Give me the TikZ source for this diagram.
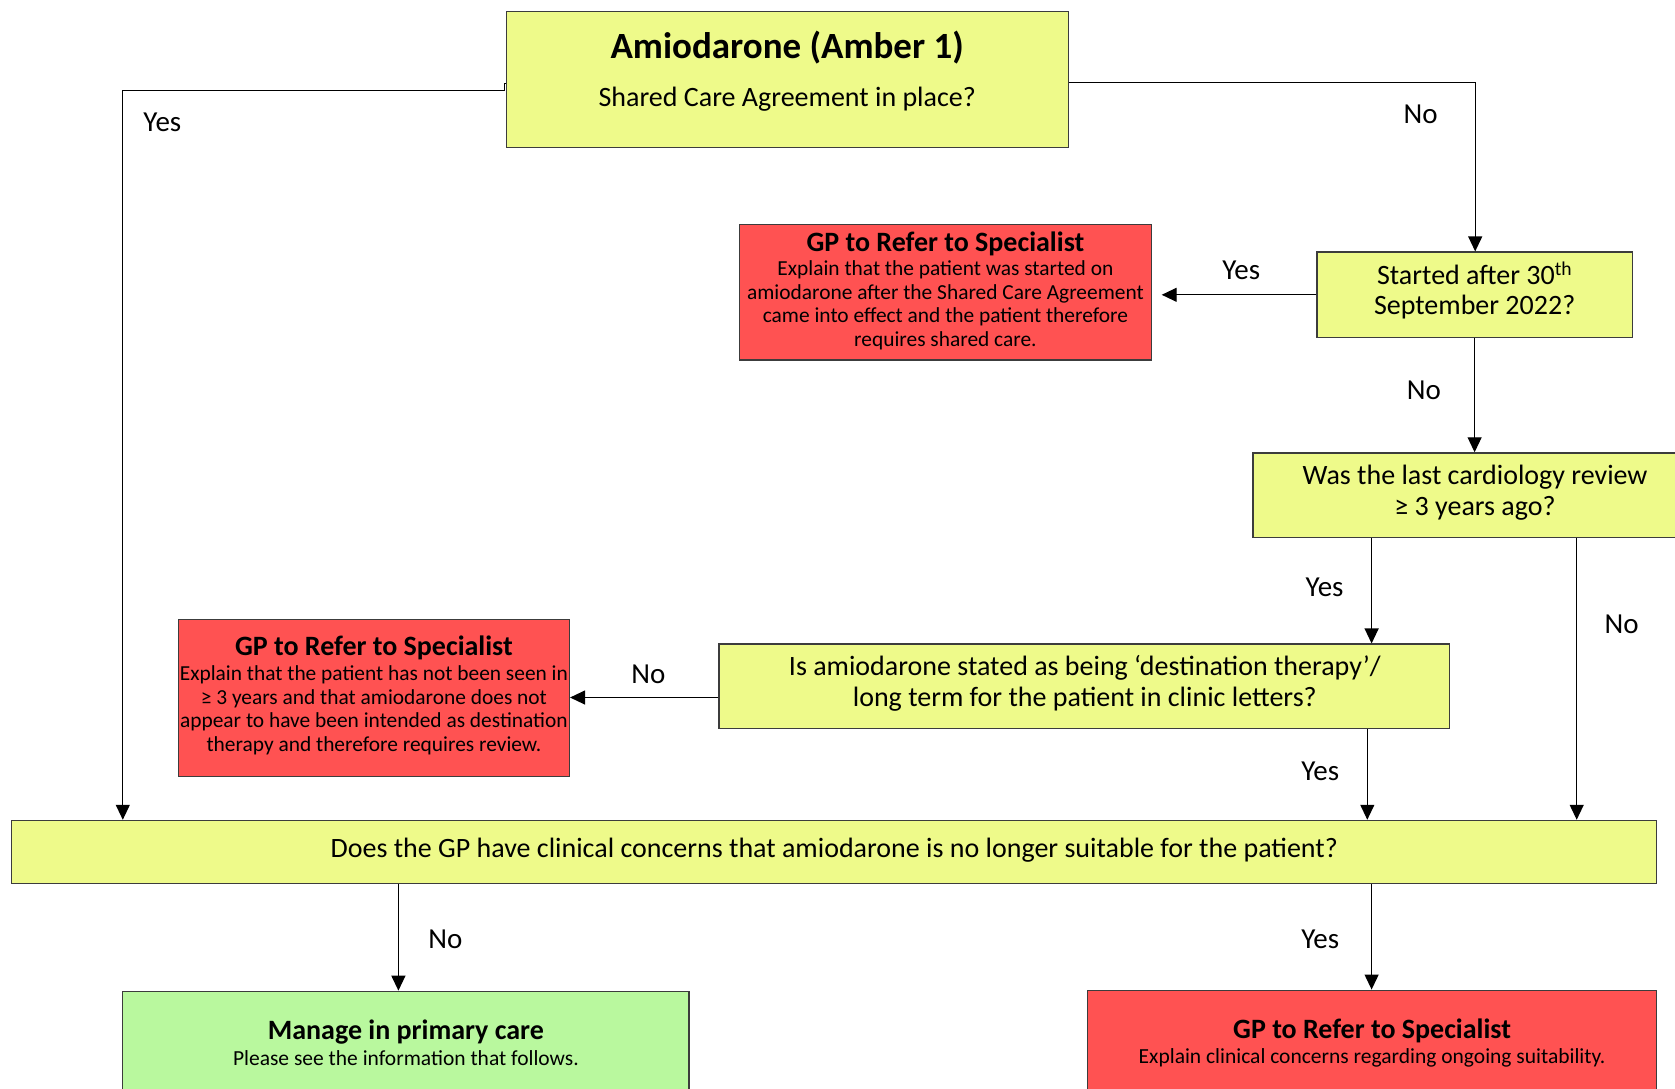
\documentclass[tikz,border=0pt]{standalone}
\usepackage{fontspec}
\setmainfont{Carlito}
\usetikzlibrary{arrows.meta}
\definecolor{ybox}{RGB}{238,250,138}
\definecolor{rbox}{RGB}{255,82,82}
\definecolor{gbox}{RGB}{185,248,158}
\definecolor{edgec}{RGB}{60,60,60}
\newcommand\fsz[2]{\fontsize{#1}{#2}\selectfont}
\begin{document}
\begin{tikzpicture}[x=1pt,y=-1pt,
  box/.style={draw=edgec,line width=1.3pt,rectangle,inner sep=0pt},
  ybx/.style={box,fill=ybox},
  rbx/.style={box,fill=rbox},
  gbx/.style={box,fill=gbox},
  arr/.style={draw=black,line width=1.2pt,-{Triangle[length=15pt,width=14pt]}},
  lbl/.style={font=\fsz{29}{34},inner sep=0pt},
  txt/.style={inner sep=0pt,anchor=base},
  mtxt/.style={inner sep=0pt,align=center},
]
\useasboundingbox (0,0) rectangle (1675,1088);
\clip (0,0) rectangle (1675,1088);
\fill[white] (0,0) rectangle (1675,1088);

% boxes
\node[ybx,minimum width=562pt,minimum height=135.6pt] (top) at (787.2,79.6) {};
\node[rbx,minimum width=412.3pt,minimum height=135.7pt] (red1) at (945.4,292.2) {};
\node[ybx,minimum width=315.1pt,minimum height=85.5pt] (start) at (1474.6,294.8) {};
\node[ybx,minimum width=444pt,minimum height=84.4pt] (card) at (1475,495.1) {};
\node[ybx,minimum width=730.6pt,minimum height=84.4pt] (dest) at (1084.2,686.3) {};
\node[rbx,minimum width=391pt,minimum height=157pt] (red2) at (373.9,698.1) {};
\node[ybx,minimum width=1645pt,minimum height=63pt] (bot) at (834.3,851.9) {};
\node[gbx,minimum width=566.2pt,minimum height=118.7pt] (green) at (405.9,1050.65) {};
\node[rbx,minimum width=569.4pt,minimum height=119.8pt] (red3) at (1372.1,1050.1) {};

% texts
\node[txt,font=\bfseries\fsz{37}{44}] (t1) at (787.2,58) {Amiodarone (Amber 1)};
\node[txt,font=\fsz{28}{34}] (t2) at (787.2,106.5) {Shared Care Agreement in place?};

\node[txt,font=\bfseries\fsz{28}{34}] (r1t) at (945.4,251) {GP to Refer to Specialist};
\node[mtxt,font=\fsz{21.4}{23.5}] (r1b) at (945.4,305.5)
  {Explain that the patient was started on\\amiodarone after the Shared Care Agreement\\came into effect and the patient therefore\\requires shared care.};

\node[mtxt,font=\fsz{28}{30}] (st) at (1474.6,290.5)
  {Started after 30\textsuperscript{th}\\September 2022?};

\node[mtxt,font=\fsz{28}{31}] (ct) at (1475,492.5)
  {Was the last cardiology review\\≥ 3 years ago?};

\node[mtxt,font=\fsz{28}{31}] (dt) at (1084.8,683.7)
  {Is amiodarone stated as being ‘destination therapy’/\\long term for the patient in clinic letters?};

\node[txt,font=\bfseries\fsz{28}{34}] (r2t) at (373.9,655.8) {GP to Refer to Specialist};
\node[mtxt,font=\fsz{21.4}{23.5}] (r2b) at (373.9,710.3)
  {Explain that the patient has not been seen in\\≥ 3 years and that amiodarone does not\\appear to have been intended as destination\\therapy and therefore requires review.};

\node[txt,font=\fsz{28}{34}] (bt) at (834.3,857.5)
  {Does the GP have clinical concerns that amiodarone is no longer suitable for the patient?};

\node[txt,font=\bfseries\fsz{28}{34}] (gt) at (405.9,1039.7) {Manage in primary care};
\node[txt,font=\fsz{21.5}{25}] (gb) at (405.9,1065.9) {Please see the information that follows.};

\node[txt,font=\bfseries\fsz{28}{34}] (r3t) at (1372.1,1038.7) {GP to Refer to Specialist};
\node[txt,font=\fsz{21.5}{25}] (r3b) at (1372.1,1063.8) {Explain clinical concerns regarding ongoing suitability.};

% connector coordinates
\coordinate (j1) at (504.5,83.3);
\coordinate (j2) at (504.5,90.8);
\coordinate (yL) at (122.8,90.8);
\coordinate (nR) at (1475.2,82.3);
\coordinate (cx1) at (1371.6,0);
\coordinate (cx2) at (1576.7,0);
\coordinate (cx3) at (1367.3,0);
\coordinate (cx4) at (398.4,0);
\coordinate (ay) at (0,697.5);

% connectors
\draw[arr] (top.west |- j1) -- (j1) -- (j2) -- (yL) -- (yL |- bot.north);
\draw[arr] (top.east |- nR) -- (nR) -- (nR |- start.north);
\draw[arr,shorten >=9.5pt] (start.west) -- (red1.east |- start.west);
\draw[arr] (start.south) -- (start.south |- card.north);
\draw[arr] (card.south -| cx1) -- (dest.north -| cx1);
\draw[arr] (card.south -| cx2) -- (bot.north -| cx2);
\draw[arr] (dest.west |- ay) -- (red2.east |- ay);
\draw[arr] (dest.south -| cx3) -- (bot.north -| cx3);
\draw[arr] (bot.south -| cx4) -- (green.north -| cx4);
\draw[arr] (bot.south -| cx1) -- (red3.north -| cx1);

% labels
\node[lbl] (l1) at (162.4,121.8) {Yes};
\node[lbl] (l2) at (1420.7,114.3) {No};
\node[lbl] (l3) at (1241.2,270.3) {Yes};
\node[lbl] (l4) at (1423.9,389.9) {No};
\node[lbl] (l5) at (1324.6,587.5) {Yes};
\node[lbl] (l6) at (1621.5,623.8) {No};
\node[lbl] (l7) at (648.4,674) {No};
\node[lbl] (l8) at (1320.3,771.2) {Yes};
\node[lbl] (l9) at (445.4,939) {No};
\node[lbl] (l10) at (1320.3,939) {Yes};
\end{tikzpicture}
\end{document}
